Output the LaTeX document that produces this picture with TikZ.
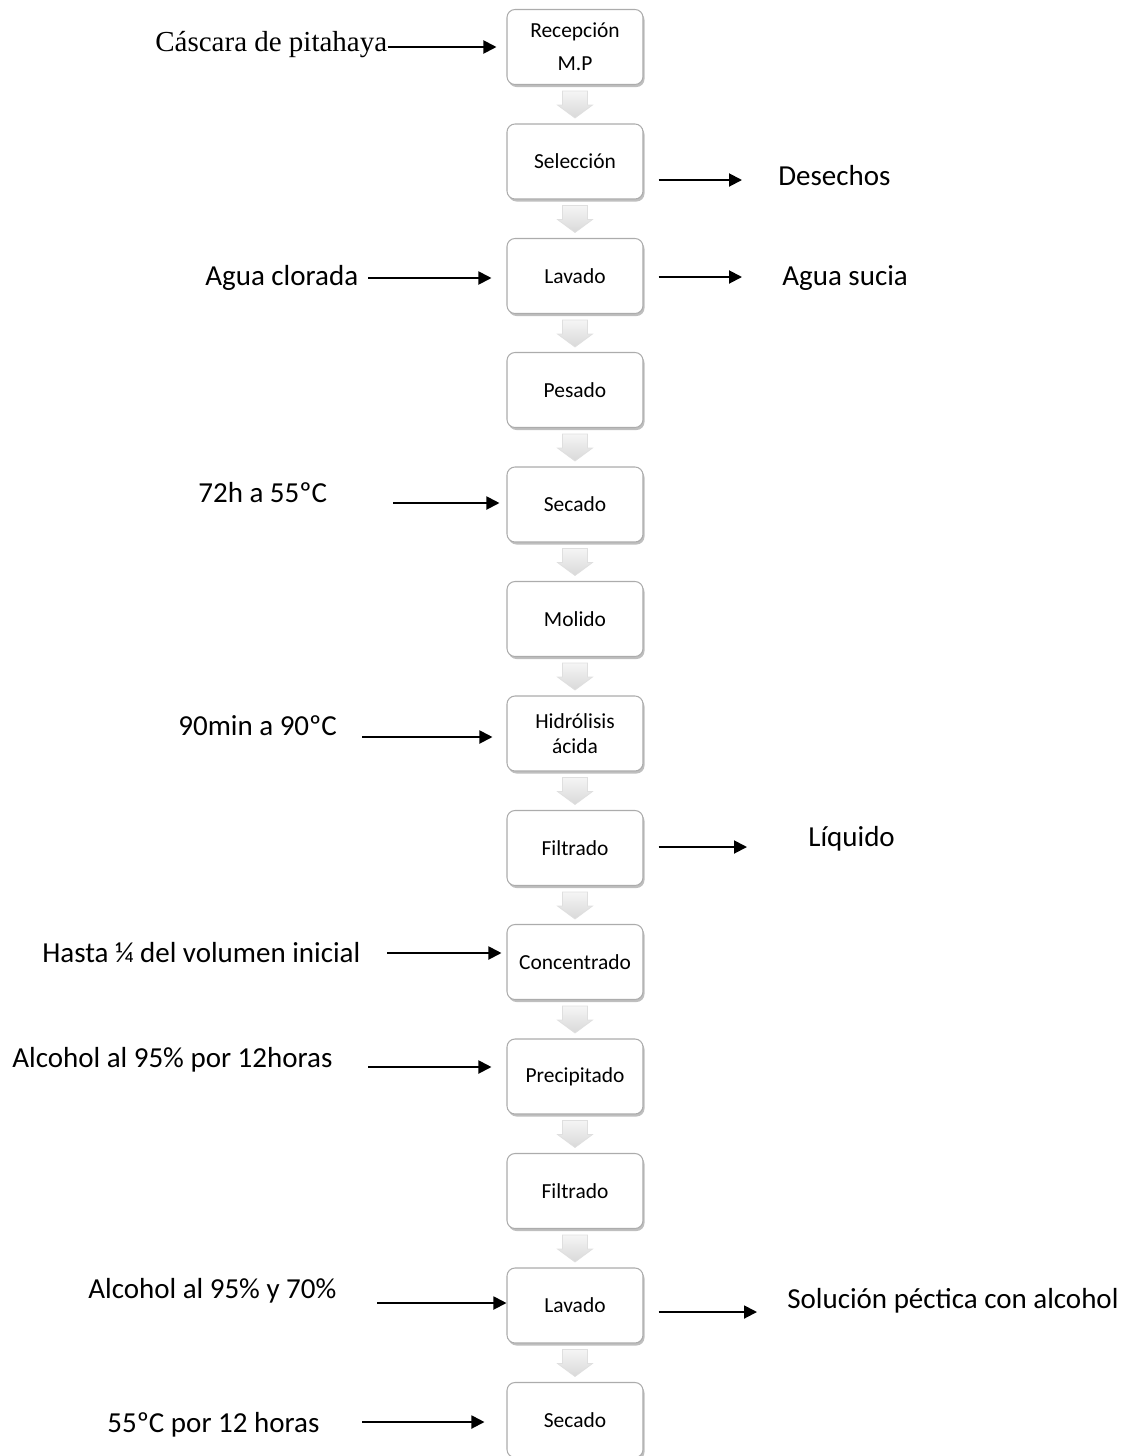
\documentclass[tikz,border=0pt]{standalone}
\usepackage{fontspec}
\setmainfont{Carlito}
\newfontfamily\tnr{Liberation Serif}
\usepackage{tikz}
\usetikzlibrary{arrows.meta,calc,shadows}

\tikzset{
  paso/.style={draw=gray!65, line width=0.6pt, rounded corners=0.16cm, fill=white,
    minimum width=2.72cm, minimum height=1.5cm, align=center,
    font=\fontsize{12.2}{14.6}\selectfont,
    drop shadow={shadow xshift=0.03cm, shadow yshift=-0.05cm, fill=black, opacity=0.25}},
  etiqueta/.style={anchor=base west, inner sep=0pt, font=\fontsize{16.5}{19.8}\selectfont},
  flecha/.style={line width=1.1pt, -{Triangle[length=0.26cm,width=0.26cm]}},
}

% bloque gris entre pasos
\newcommand{\bajar}[1]{%
  \path[draw=gray!25, top color=gray!8, bottom color=gray!30]
    ($(#1.south)+(-0.25,-0.12)$) -- ++(0.5,0) -- ++(0,-0.28) -- ++(0.1,0)
    -- ++(-0.35,-0.26) -- ++(-0.35,0.26) -- ++(0.1,0) -- cycle;}

\begin{document}
\begin{tikzpicture}
    \useasboundingbox (0,0) rectangle (22.64,-29.12);

    % pasos del proceso
    \node[paso] (recepcion) at (11.5,-0.94) {Recepción\\[4pt]M.P};
    \node[paso] (seleccion) at (11.5,-3.23) {Selección};
    \node[paso] (lavado1) at (11.5,-5.52) {Lavado};
    \node[paso] (pesado) at (11.5,-7.80) {Pesado};
    \node[paso] (secado1) at (11.5,-10.09) {Secado};
    \node[paso] (molido) at (11.5,-12.38) {Molido};
    \node[paso] (hidrolisis) at (11.5,-14.67) {Hidrólisis\\ácida};
    \node[paso] (filtrado1) at (11.5,-16.96) {Filtrado};
    \node[paso] (concentrado) at (11.5,-19.24) {Concentrado};
    \node[paso] (precipitado) at (11.5,-21.53) {Precipitado};
    \node[paso] (filtrado2) at (11.5,-23.82) {Filtrado};
    \node[paso] (lavado2) at (11.5,-26.11) {Lavado};
    \node[paso] (secado2) at (11.5,-28.40) {Secado};

    \bajar{recepcion}
    \bajar{seleccion}
    \bajar{lavado1}
    \bajar{pesado}
    \bajar{secado1}
    \bajar{molido}
    \bajar{hidrolisis}
    \bajar{filtrado1}
    \bajar{concentrado}
    \bajar{precipitado}
    \bajar{filtrado2}
    \bajar{lavado2}

    % entradas
    \node[etiqueta, font=\tnr\fontsize{16.5}{19.8}\selectfont] (cascara) at (3.10,-1.02) {Cáscara de pitahaya};
    \draw[flecha, shorten >=0.2cm] (cascara.east |- recepcion.west) -- (recepcion.west);

    \node[etiqueta] (clorada) at (4.10,-5.70) {Agua clorada};
    \coordinate (e2) at (7.36,-5.56);
    \draw[flecha, shorten >=0.3cm] (e2) -- (e2 -| lavado1.west);

    \node[etiqueta] (tsecado) at (3.96,-10.04) {72h a 55ºC};
    \coordinate (e3) at (7.86,-10.06);
    \draw[flecha, shorten >=0.14cm] (e3) -- (e3 -| secado1.west);

    \node[etiqueta] (thidro) at (3.56,-14.70) {90min a 90ºC};
    \coordinate (e4) at (7.24,-14.74);
    \draw[flecha, shorten >=0.28cm] (e4) -- (e4 -| hidrolisis.west);

    \node[etiqueta] (hasta) at (0.84,-19.24) {Hasta ¼ del volumen inicial};
    \coordinate (e5) at (7.74,-19.06);
    \draw[flecha, shorten >=0.1cm] (e5) -- (e5 -| concentrado.west);

    \node[etiqueta] (alcohol1) at (0.24,-21.34) {Alcohol al 95\% por 12horas};
    \coordinate (e6) at (7.36,-21.34);
    \draw[flecha, shorten >=0.3cm] (e6) -- (e6 -| precipitado.west);

    \node[etiqueta] (alcohol2) at (1.76,-25.96) {Alcohol al 95\% y 70\%};
    \coordinate (e7) at (7.54,-26.06);
    \draw[flecha] (e7) -- (e7 -| lavado2.west);

    \node[etiqueta] (tfinal) at (2.14,-28.64) {55ºC por 12 horas};
    \coordinate (e8) at (7.24,-28.44);
    \draw[flecha, shorten >=0.44cm] (e8) -- (e8 -| secado2.west);

    % salidas
    \coordinate (s1) at (14.84,-3.60);
    \draw[flecha, shorten <=0.3cm] (s1 -| seleccion.east) -- (s1);
    \node[etiqueta] (desechos) at (15.56,-3.70) {Desechos};

    \coordinate (s2) at (14.84,-5.54);
    \draw[flecha, shorten <=0.3cm] (s2 -| lavado1.east) -- (s2);
    \node[etiqueta] (sucia) at (15.64,-5.70) {Agua sucia};

    \coordinate (s3) at (14.94,-16.94);
    \draw[flecha, shorten <=0.3cm] (s3 -| filtrado1.east) -- (s3);
    \node[etiqueta] (liquido) at (16.16,-16.92) {Líquido};

    \coordinate (s4) at (15.14,-26.24);
    \draw[flecha, shorten <=0.3cm] (s4 -| lavado2.east) -- (s4);
    \node[etiqueta] (pectica) at (15.74,-26.16) {Solución péctica con alcohol};
\end{tikzpicture}
\end{document}
